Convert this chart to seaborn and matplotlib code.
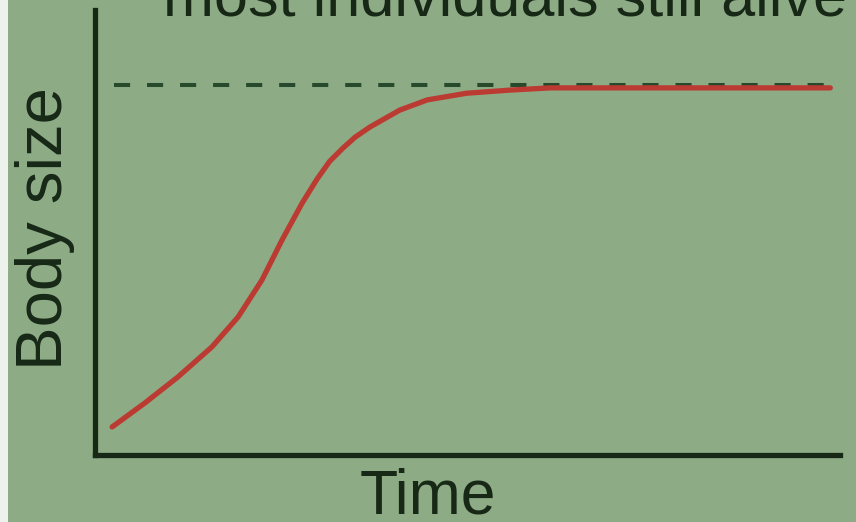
import matplotlib
matplotlib.use("Agg")
import matplotlib.pyplot as plt
import seaborn as sns
import pandas as pd
from matplotlib.patches import Rectangle

# Data (arbitrary units)
time = [0.23, 0.67, 1.11, 1.57, 1.92, 2.24, 2.51, 2.78, 2.98, 3.15, 3.33,
        3.49, 3.69, 4.09, 4.46, 4.99, 5.57, 6.11, 8.12, 9.87]
body_size = [0.063, 0.117, 0.175, 0.243, 0.310, 0.393, 0.483, 0.566, 0.620,
             0.660, 0.690, 0.714, 0.737, 0.775, 0.798, 0.813, 0.820, 0.825,
             0.825, 0.825]
asymptote = 0.831
title_text = "most individuals still alive"
x_label = "Time"
y_label = "Body size"

bg = "#8dab85"
ink = "#172817"

sns.set_style("white", {"axes.facecolor": bg, "figure.facecolor": bg})
plt.rcParams["font.family"] = ["Liberation Sans", "DejaVu Sans"]

fig = plt.figure(figsize=(8.56, 5.22), dpi=100)
fig.patches.append(Rectangle((0, 0), 8 / 856, 1, transform=fig.transFigure,
                             facecolor="#eef2ec", edgecolor="none", zorder=0))
ax = fig.add_axes([95 / 856, 1 - 455 / 522, (840 - 95) / 856, (455 - 10) / 522])

df = pd.DataFrame({"Time": time, "Body size": body_size})
ax.axhline(asymptote, xmin=0.025, xmax=0.985, color="#274a2c", lw=2.9,
           dashes=(4.0, 4.2), zorder=1)
sns.lineplot(data=df, x="Time", y="Body size", ax=ax, color="#bb3b33",
             lw=3.8, zorder=2, solid_joinstyle="round", solid_capstyle="round")

ax.set_xlim(0, 10)
ax.set_ylim(0, 1)
ax.set_xticks([])
ax.set_yticks([])
ax.set_xlabel("")
ax.set_ylabel("")
for s in ["top", "right"]:
    ax.spines[s].set_visible(False)
for s in ["left", "bottom"]:
    ax.spines[s].set_color(ink)
    ax.spines[s].set_linewidth(3.8)

fig.text(505 / 856, 1 - 15 / 522, title_text, ha="center", va="baseline",
         fontsize=44, color=ink)
fig.text(428 / 856, 1 - 514 / 522, x_label, ha="center", va="baseline",
         fontsize=45, color=ink)
fig.text(45 / 856, 1 - 229 / 522, y_label, ha="center", va="center",
         rotation=90, fontsize=47, color=ink)

fig.savefig("out.png", dpi=100, facecolor=bg)
